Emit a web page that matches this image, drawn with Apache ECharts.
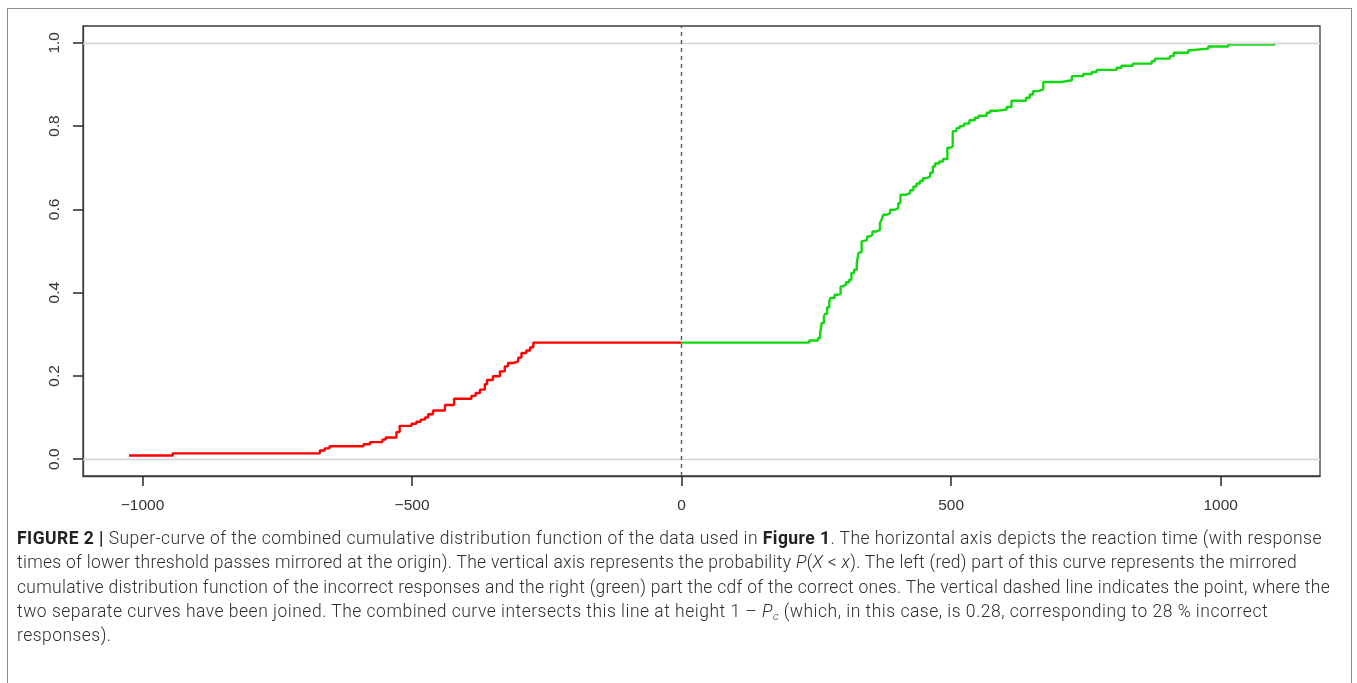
<!DOCTYPE html>
<html>
<head>
<meta charset="utf-8">
<script src="https://cdn.jsdelivr.net/npm/echarts@6/dist/echarts.min.js"></script>
<style>
  html, body { margin: 0; padding: 0; background: #fff; }
  #wrap { position: relative; width: 1357px; height: 683px; overflow: hidden; background: #fff; }
  #frame { position: absolute; left: 7px; top: 8px; width: 1345px; height: 700px; border: 1px solid #8c8c8c; box-sizing: border-box; }
  #chart { position: absolute; left: 0; top: 0; width: 1357px; height: 683px; z-index: 1; }
  #caption {
    position: absolute; left: 17px; top: 526px; z-index: 2;
    font-family: "Roboto", "Liberation Sans", sans-serif; font-weight: 300;
    font-size: 17.5px; line-height: 24.3px; color: #2e2e2e; white-space: nowrap;
  }
  #caption .ln { display: inline-block; }
  #caption b { font-weight: 700; color: #222; }
  #caption sub { font-size: 11px; vertical-align: -3px; line-height: 0; }
</style>
</head>
<body>
<div id="wrap">
  <div id="frame"></div>
  <div id="chart"></div>
  <div id="caption">
    <span class="ln"><b>FIGURE 2 |</b> Super-curve of the combined cumulative distribution function of the data used in <b>Figure 1</b>. The horizontal axis depicts the reaction time (with response</span><br>
    <span class="ln">times of lower threshold passes mirrored at the origin). The vertical axis represents the probability <i>P</i>(<i>X</i> &lt; <i>x</i>). The left (red) part of this curve represents the mirrored</span><br>
    <span class="ln">cumulative distribution function of the incorrect responses and the right (green) part the cdf of the correct ones. The vertical dashed line indicates the point, where the</span><br>
    <span class="ln">two separate curves have been joined. The combined curve intersects this line at height 1 – <i>P<sub>c</sub></i> (which, in this case, is 0.28, corresponding to 28 % incorrect</span><br>
    <span class="ln">responses).</span>
  </div>
</div>
<script>
// Mirrored cdf of incorrect responses (step positions and levels)
const redX = [-1025, -944, -671, -662, -653, -590, -578, -555, -549, -529,
              -523, -501, -492, -484, -476, -470, -461, -439, -422, -390,
              -382, -374, -365, -361, -350, -337, -328, -322, -312, -303,
              -297, -288, -281, -275, 0];
const redP = [0.009, 0.014, 0.021, 0.026, 0.031, 0.036, 0.041, 0.047, 0.052, 0.065,
              0.080, 0.085, 0.090, 0.095, 0.100, 0.108, 0.117, 0.130, 0.145, 0.152,
              0.159, 0.167, 0.180, 0.190, 0.199, 0.211, 0.223, 0.231, 0.235, 0.244,
              0.255, 0.261, 0.269, 0.280, 0.280];

// cdf of correct responses, starting from the joining level at 0
const greenX = [0, 237, 253, 257, 260, 264, 266, 270, 274, 276,
                284, 291, 295, 299, 305, 311, 315, 320, 325, 328,
                331, 334, 337, 344, 349, 354, 362, 368, 371, 374,
                380, 387, 396, 402, 406, 416, 424, 430, 436, 442,
                448, 455, 461, 466, 470, 478, 485, 493, 498, 503,
                510, 516, 524, 534, 544, 551, 566, 572, 587, 603,
                612, 639, 646, 652, 662, 671, 705, 724, 745, 761,
                770, 807, 816, 837, 872, 878, 906, 913, 940, 944,
                977, 1014, 1100];
const greenP = [0.280, 0.285, 0.291, 0.303, 0.327, 0.343, 0.349, 0.365, 0.379, 0.387,
                0.395, 0.397, 0.415, 0.419, 0.425, 0.431, 0.447, 0.455, 0.471, 0.495,
                0.498, 0.523, 0.526, 0.535, 0.539, 0.547, 0.551, 0.567, 0.575, 0.587,
                0.591, 0.599, 0.603, 0.615, 0.635, 0.639, 0.646, 0.655, 0.662, 0.668,
                0.675, 0.679, 0.688, 0.703, 0.710, 0.715, 0.721, 0.748, 0.751, 0.788,
                0.795, 0.800, 0.806, 0.814, 0.820, 0.825, 0.832, 0.837, 0.840, 0.846,
                0.861, 0.868, 0.876, 0.884, 0.888, 0.906, 0.910, 0.920, 0.925, 0.930,
                0.935, 0.940, 0.945, 0.950, 0.956, 0.962, 0.968, 0.976, 0.982, 0.986,
                0.991, 0.996, 1.000];

const xTicks = [-1000, -500, 0, 500, 1000];
const yTicks = [0, 0.2, 0.4, 0.6, 0.8, 1.0];
const xRange = [-1110.4, 1184.3];
const yRange = [-0.0404, 1.0404];

// Caption: widen letter spacing per line so each line keeps its typeset width
const lineWidths = [1305, 1280, 1313, 1251];
const captionLines = document.querySelectorAll('#caption .ln');
captionLines.forEach((el, i) => {
  if (i >= lineWidths.length) return;
  const extra = (lineWidths[i] - el.getBoundingClientRect().width) / el.textContent.trim().length;
  el.style.letterSpacing = Math.max(0, extra).toFixed(3) + 'px';
});
captionLines[4].style.letterSpacing = captionLines[0].style.letterSpacing;

const zip = (xs, ys) => xs.map((x, i) => [x, ys[i]]);
const tickFont = { fontFamily: '"Liberation Sans", Arial, sans-serif', fontSize: 15.5, color: '#333' };
const tickStyle = { color: '#2a2a2a', width: 1.5 };

const chart = echarts.init(document.getElementById('chart'), null, { renderer: 'canvas' });
chart.setOption({
  animation: false,
  backgroundColor: 'transparent',
  grid: { left: 83, right: 37, top: 26, bottom: 207, show: true, borderColor: '#3c3c3c', borderWidth: 1.3, backgroundColor: 'transparent' },
  xAxis: {
    type: 'value', min: xRange[0], max: xRange[1], position: 'bottom',
    splitLine: { show: false },
    axisLine: { show: true, onZero: false, lineStyle: { color: '#3c3c3c', width: 1.3 } },
    axisTick: { show: true, inside: false, length: 10, customValues: xTicks, lineStyle: tickStyle },
    axisLabel: Object.assign({ customValues: xTicks, margin: 22,
      formatter: v => (v < 0 ? '\u2212' + Math.abs(v) : String(v)) }, tickFont)
  },
  yAxis: {
    type: 'value', min: yRange[0], max: yRange[1], position: 'left',
    splitLine: { show: false },
    axisLine: { show: true, onZero: false, lineStyle: { color: '#3c3c3c', width: 1.3 } },
    axisTick: { show: true, inside: false, length: 10, customValues: yTicks, lineStyle: tickStyle },
    axisLabel: Object.assign({ customValues: yTicks, rotate: 90, margin: 20,
      formatter: v => v.toFixed(1) }, tickFont)
  },
  series: [
    {
      type: 'line', data: [], silent: true,
      markLine: {
        symbol: 'none', silent: true, label: { show: false },
        data: [
          { yAxis: 0, lineStyle: { color: '#d4d4d4', width: 1.3, type: 'solid' } },
          { yAxis: 1, lineStyle: { color: '#d4d4d4', width: 1.3, type: 'solid' } },
          { xAxis: 0, lineStyle: { color: '#555', width: 1.4, type: [4, 4] } }
        ]
      }
    },
    {
      name: 'incorrect', type: 'line', step: 'end', showSymbol: false,
      data: zip(redX, redP),
      lineStyle: { color: '#ff0000', width: 2.4 }
    },
    {
      name: 'correct', type: 'line', step: 'end', showSymbol: false,
      data: zip(greenX, greenP),
      lineStyle: { color: '#12d812', width: 2.4 }
    }
  ]
});
</script>
</body>
</html>
